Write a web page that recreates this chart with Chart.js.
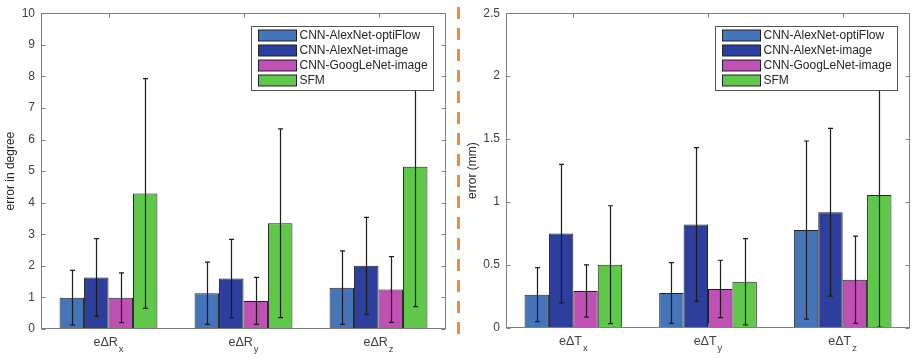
<!DOCTYPE html>
<html>
<head>
<meta charset="utf-8">
<script src="https://cdn.jsdelivr.net/npm/chart.js@4.4.1/dist/chart.umd.min.js"></script>
<style>
  html, body { margin: 0; padding: 0; background: #fff; }
  #wrap { position: relative; width: 914px; height: 358px; }
  canvas { position: absolute; top: 0; }
  #rotChart { left: 0; }
  #transChart { left: 460px; }
  #divider {
    position: absolute; left: 457px; top: 7px; width: 3px; height: 327px;
    background: repeating-linear-gradient(to bottom, #f5893a 0 12px, transparent 12px 21px);
  }
</style>
</head>
<body>
<div id="wrap">
  <canvas id="rotChart" width="457" height="358"></canvas>
  <div id="divider"></div>
  <canvas id="transChart" width="454" height="358"></canvas>
</div>
<script>
// series names (legend)
const seriesNames = ["CNN-AlexNet-optiFlow", "CNN-AlexNet-image", "CNN-GoogLeNet-image", "SFM"];

// rotation errors (degree), "_" marks the subscript
const rotLabels = ["eΔR_x", "eΔR_y", "eΔR_z"];
const rotOptiFlow = [0.99, 1.13, 1.31];
const rotOptiFlowStd = [0.865, 0.985, 1.165];
const rotAlexImage = [1.63, 1.60, 2.00];
const rotAlexImageStd = [1.23, 1.24, 1.535];
const rotGoogImage = [0.99, 0.89, 1.25];
const rotGoogImageStd = [0.79, 0.745, 1.04];
const rotSfm = [4.29, 3.35, 5.14];
const rotSfmStd = [3.64, 2.99, 4.43];

// translation errors (mm)
const transLabels = ["eΔT_x", "eΔT_y", "eΔT_z"];
const transOptiFlow = [0.265, 0.278, 0.778];
const transOptiFlowStd = [0.215, 0.241, 0.707];
const transAlexImage = [0.75, 0.822, 0.919];
const transAlexImageStd = [0.55, 0.61, 0.666];
const transGoogImage = [0.294, 0.31, 0.383];
const transGoogImageStd = [0.208, 0.228, 0.347];
const transSfm = [0.503, 0.367, 1.056];
const transSfmStd = [0.468, 0.342, 1.048];

const barColors = ["#4674b9", "#2d3e9c", "#bf50b4", "#5fc74a"];
const fontFamily = '"Liberation Sans", Arial, sans-serif';
const frameColor = "#7f7f7f";

// error bars, matlab style box, subscript labels and inner legend
const matlabLook = {
  id: "matlabLook",
  afterDatasetsDraw(chart) {
    const ctx = chart.ctx;
    const area = chart.chartArea;
    const xs = chart.scales.x, ys = chart.scales.y;
    ctx.save();

    ctx.strokeStyle = "#1c1c1c";
    ctx.lineWidth = 1.2;
    chart.data.datasets.forEach((ds, di) => {
      chart.getDatasetMeta(di).data.forEach((bar, i) => {
        const bx = Math.round(bar.x) + 0.5;
        const hi = ys.getPixelForValue(ds.data[i] + ds.errors[i]);
        const lo = ys.getPixelForValue(ds.data[i] - ds.errors[i]);
        ctx.beginPath();
        ctx.moveTo(bx, hi); ctx.lineTo(bx, lo);
        ctx.moveTo(bx - 2.5, hi); ctx.lineTo(bx + 2.5, hi);
        ctx.moveTo(bx - 2.5, lo); ctx.lineTo(bx + 2.5, lo);
        ctx.stroke();
      });
    });

    const L = Math.round(area.left) + 0.5, R = Math.round(area.right) - 0.5;
    const T = Math.round(area.top) + 0.5, B = Math.round(area.bottom) - 0.5;
    ctx.strokeStyle = frameColor;
    ctx.lineWidth = 1;
    ctx.strokeRect(L, T, R - L, B - T);
    ctx.beginPath();
    ys.ticks.forEach((t, i) => {
      const py = Math.round(ys.getPixelForTick(i)) + 0.5;
      ctx.moveTo(L, py); ctx.lineTo(L + 4, py);
      ctx.moveTo(R, py); ctx.lineTo(R - 4, py);
    });
    xs.ticks.forEach((t, i) => {
      const px = Math.round(xs.getPixelForTick(i)) + 0.5;
      ctx.moveTo(px, B); ctx.lineTo(px, B - 4);
      ctx.moveTo(px, T); ctx.lineTo(px, T + 4);
    });
    ctx.stroke();

    ctx.fillStyle = "#404040";
    ctx.textAlign = "left";
    ctx.textBaseline = "alphabetic";
    chart.data.labels.forEach((lab, i) => {
      const [main, sub] = lab.split("_");
      ctx.font = "12.5px " + fontFamily;
      const wm = ctx.measureText(main).width;
      ctx.font = "9.5px " + fontFamily;
      const ws = ctx.measureText(sub).width;
      const sx = xs.getPixelForTick(i) - (wm + ws + 1) / 2;
      ctx.font = "12.5px " + fontFamily;
      ctx.fillText(main, sx, B + 17);
      ctx.font = "9.5px " + fontFamily;
      ctx.fillText(sub, sx + wm + 1, B + 23.5);
    });

    const boxR = Math.round(area.right) - 12.5, boxW = 182, boxH = 64;
    const boxL = boxR - boxW, boxT = Math.round(area.top) + 13.5;
    ctx.fillStyle = "#fff";
    ctx.fillRect(boxL, boxT, boxW, boxH);
    ctx.strokeStyle = "#555";
    ctx.strokeRect(boxL, boxT, boxW, boxH);
    ctx.font = "12px " + fontFamily;
    ctx.textBaseline = "middle";
    chart.data.datasets.forEach((ds, di) => {
      const cy = boxT + 9 + di * 15;
      ctx.fillStyle = ds.backgroundColor;
      ctx.fillRect(boxL + 7, Math.round(cy - 5.5), 38, 11);
      ctx.strokeStyle = "#222";
      ctx.strokeRect(boxL + 7, Math.round(cy - 5.5), 38, 11);
      ctx.fillStyle = "#262626";
      ctx.fillText(ds.label, boxL + 48, cy + 0.5);
    });
    ctx.restore();
  }
};

function makeChart(id, labels, means, stds, yMax, yStep, yTitle, axisWidth, titlePad, padRight, xHeight) {
  const datasets = means.map((m, k) => ({
    label: seriesNames[k],
    data: m,
    errors: stds[k],
    backgroundColor: barColors[k],
    borderColor: "#222",
    borderWidth: 1,
    borderSkipped: false,
    categoryPercentage: 0.725,
    barPercentage: 1.0
  }));
  return new Chart(document.getElementById(id).getContext("2d"), {
    type: "bar",
    data: { labels: labels, datasets: datasets },
    options: {
      responsive: false,
      animation: false,
      layout: { padding: { left: 0, right: padRight, top: 8, bottom: 0 } },
      plugins: { legend: { display: false }, tooltip: { enabled: false } },
      scales: {
        x: {
          grid: { display: false, drawTicks: false },
          border: { display: false },
          ticks: { display: false },
          afterFit: s => { s.height = xHeight; }
        },
        y: {
          min: 0, max: yMax,
          grid: { display: false, drawTicks: false },
          border: { display: false },
          ticks: {
            stepSize: yStep, padding: 6, color: "#404040",
            font: { family: fontFamily, size: 12 },
            callback: v => String(Math.round(v * 10) / 10)
          },
          title: { display: true, text: yTitle, color: "#262626", padding: { top: titlePad, bottom: 0 }, font: { family: fontFamily, size: 12 } },
          afterFit: s => { s.width = axisWidth; }
        }
      }
    },
    plugins: [matlabLook]
  });
}

document.addEventListener("DOMContentLoaded", function() {
  makeChart("rotChart", rotLabels,
    [rotOptiFlow, rotAlexImage, rotGoogImage, rotSfm],
    [rotOptiFlowStd, rotAlexImageStd, rotGoogImageStd, rotSfmStd],
    10, 1, "error in degree", 41, 3, 11, 29);
  makeChart("transChart", transLabels,
    [transOptiFlow, transAlexImage, transGoogImage, transSfm],
    [transOptiFlowStd, transAlexImageStd, transGoogImageStd, transSfmStd],
    2.5, 0.5, "error (mm)", 46, 5, 4, 30);
});
</script>
</body>
</html>
